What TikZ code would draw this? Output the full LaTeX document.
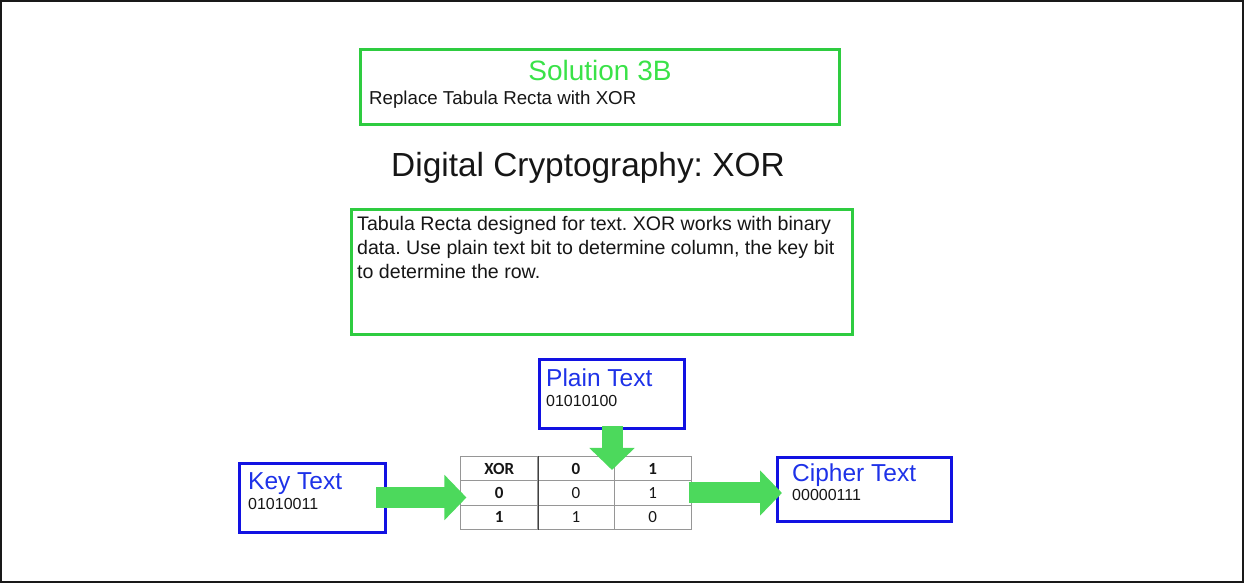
\documentclass[tikz,border=0pt]{standalone}
\usepackage{fontspec}
\setmainfont{Liberation Sans}
\newfontfamily\tablefont{Carlito}
\usetikzlibrary{arrows.meta,matrix}
\frenchspacing

\definecolor{boxgreen}{RGB}{46,204,64}
\definecolor{titlegreen}{RGB}{58,226,72}
\definecolor{boxblue}{RGB}{18,18,226}
\definecolor{labelblue}{RGB}{30,50,232}
\definecolor{arrowgreen}{RGB}{76,217,92}
\definecolor{bodytext}{RGB}{22,22,22}
\definecolor{gridgray}{RGB}{150,150,150}

\begin{document}
\begin{tikzpicture}[x=1pt,y=-1pt,
  frame/.style={draw, line width=#1, inner sep=0pt, anchor=north west},
  greenbox/.style={frame=3pt, draw=boxgreen},
  bluebox/.style={frame=3pt, draw=boxblue},
  plaintext/.style={inner sep=0pt, text=bodytext},
  bluelabel/.style={inner sep=0pt, anchor=base west, text=labelblue,
    font=\fontsize{24.5}{27}\selectfont},
  bits/.style={inner sep=0pt, anchor=base west, text=bodytext,
    font=\fontsize{16}{18}\selectfont},
  blockarrow/.style={draw=arrowgreen, line width=21pt,
    -{Triangle[width=44pt,length=22pt]}},
  cell/.style={draw=gridgray, line width=1pt, minimum width=76.7pt,
    minimum height=24.3pt, inner sep=0pt, text=bodytext,
    font=\tablefont\fontsize{17}{19}\selectfont},
  headcell/.style={font=\tablefont\bfseries\fontsize{17}{19}\selectfont}
]
% page frame
\draw[line width=2pt, draw=black!90] (1,1) rectangle (1243,582);
\useasboundingbox (0,0) rectangle (1245,584);

% heading box
\node[greenbox, minimum width=479pt, minimum height=75pt] (sol) at (359,48) {};
\node[plaintext, anchor=base, text=titlegreen,
  font=\fontsize{28}{30}\selectfont] (soltitle) at (600,80) {Solution 3B};
\node[plaintext, anchor=base west, font=\fontsize{18.7}{21}\selectfont]
  (solsub) at (369,104) {Replace Tabula Recta with XOR};

% title
\node[plaintext, anchor=base, font=\fontsize{33.4}{36}\selectfont]
  (title) at (588,176) {Digital Cryptography: XOR};

% description box
\node[greenbox, minimum width=501pt, minimum height=125pt] (desc) at (349.5,207.5) {};
\node[plaintext, anchor=north west, align=left,
  font=\fontsize{19.6}{23.6}\selectfont] (desctext) at (357,216.5)
  {Tabula Recta designed for text. XOR works with binary\\
   data. Use plain text bit to determine column, the key bit\\
   to determine the row.};

% input / output boxes
\node[bluebox, minimum width=145pt, minimum height=69pt] (plain) at (538,358) {};
\node[bluelabel] (plainlbl) at (546,386) {Plain Text};
\node[bits] (plainbits) at (546,406) {01010100};

\node[bluebox, minimum width=146pt, minimum height=69pt] (key) at (238,461.5) {};
\node[bluelabel] (keylbl) at (248,489) {Key Text};
\node[bits] (keybits) at (248,509) {01010011};

\node[bluebox, minimum width=174pt, minimum height=64pt] (cipher) at (776,456) {};
\node[bluelabel] (cipherlbl) at (792,481) {Cipher Text};
\node[bits] (cipherbits) at (792,500) {00000111};

% XOR lookup table
\matrix (tbl) [matrix of nodes, inner sep=0pt, column sep=-1pt, row sep=-1pt,
  nodes={cell}] at (576,493) {
  |[headcell]| XOR & |[headcell]| 0 & |[headcell]| 1 \\
  |[headcell]| 0   & 0 & 1 \\
  |[headcell]| 1   & 1 & 0 \\
};
\draw[line width=1.2pt, draw=black!75] (tbl-1-1.north east) -- (tbl-3-1.south east);

% flow arrows
\draw[blockarrow] ([xshift=-11pt]key.east) -- ([xshift=6pt]key.east -| tbl-2-1.west);
\draw[blockarrow] ([yshift=4pt]plain.south) -- ([yshift=-14pt]plain.south |- tbl-1-2.north);
\draw[blockarrow] ([xshift=-3pt]tbl-2-3.east) -- ([xshift=6pt]tbl-2-3.east -| cipher.west);
\end{tikzpicture}
\end{document}
